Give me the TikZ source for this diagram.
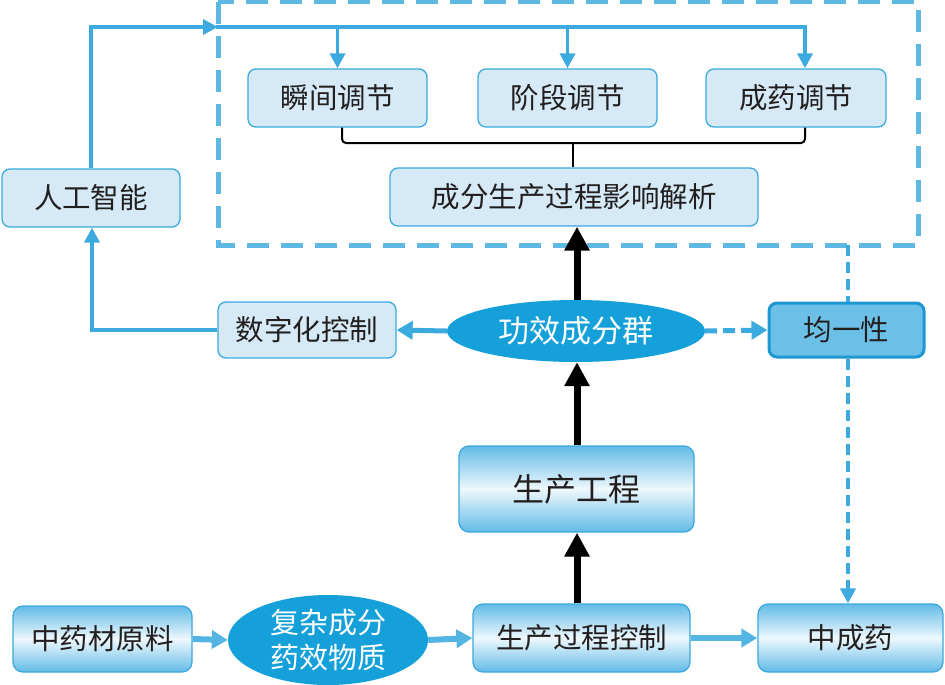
\documentclass[tikz,border=0pt]{standalone}
\usepackage{fontspec}
\newfontfamily\cjk{Noto Sans CJK SC}
\usetikzlibrary{shapes.geometric,arrows.meta}
\definecolor{lfill}{HTML}{D5EAF6}
\definecolor{bord}{HTML}{3BA9DC}
\definecolor{arrblue}{HTML}{3CAADF}
\definecolor{ellblue}{HTML}{15A0DA}
\definecolor{ufill}{HTML}{6CC0E8}
\definecolor{uborder}{HTML}{1E96D2}
\definecolor{gtop}{HTML}{62BBE6}
\definecolor{gmid}{HTML}{EEF8FD}
\definecolor{dashblue}{HTML}{5DB9E4}
\definecolor{txt}{HTML}{231F20}
\definecolor{thickblue}{HTML}{55B5E2}
\tikzset{
  lbox/.style={draw=bord, fill=lfill, line width=1.3pt, rounded corners=8pt, text=txt,
    inner sep=0pt, font=\cjk\fontsize{28.5}{32}\selectfont},
  gbox/.style={draw=bord, line width=1.3pt, rounded corners=10pt, text=txt,
    top color=gtop, bottom color=gtop, middle color=gmid,
    inner sep=0pt, font=\cjk\fontsize{28.5}{32}\selectfont},
  ell/.style={ellipse, fill=ellblue, text=white, inner sep=0pt, align=center},
  bline/.style={draw=arrblue, line width=3.5pt},
  barrow/.style={bline, -{Triangle[length=15pt,width=15pt]}},
  tarrow/.style={draw=thickblue, line width=6pt, -{Triangle[length=16pt,width=18pt]}},
  karrow/.style={draw=black, line width=7pt, -{Triangle[length=24pt,width=24pt]}},
  dline/.style={draw=arrblue, line width=4pt, dash pattern=on 11pt off 6pt},
}
\begin{document}
\begin{tikzpicture}[x=1pt,y=-1pt]
\useasboundingbox (0,0) rectangle (945,685);
% dashed region
\draw[draw=dashblue, line width=5pt, dash pattern=on 22pt off 12pt] (218,2) rectangle (918,245);
% nodes
\node[lbox, minimum width=179pt, minimum height=58pt] (A1) at (337.5,98) {瞬间调节};
\node[lbox, minimum width=179pt, minimum height=58pt] (A2) at (567.5,98) {阶段调节};
\node[lbox, minimum width=180pt, minimum height=58pt] (A3) at (796,98) {成药调节};
\node[lbox, minimum width=368pt, minimum height=58pt] (B) at (574,197) {成分生产过程影响解析};
\node[lbox, minimum width=178pt, minimum height=58pt] (AI) at (91,198) {人工智能};
\node[lbox, minimum width=178pt, minimum height=56pt] (D) at (307,330) {数字化控制};
\node[ell, minimum width=258pt, minimum height=62pt, font=\cjk\fontsize{31}{34}\selectfont] (E) at (576,331) {功效成分群};
\node[lbox, fill=ufill, draw=uborder, line width=3pt, minimum width=155pt, minimum height=54pt] (U) at (846.5,330) {均一性};
\node[gbox, minimum width=235pt, minimum height=86pt, font=\cjk\fontsize{32}{36}\selectfont] (G) at (576.5,489) {生产工程};
\node[gbox, minimum width=179pt, minimum height=66pt] (R) at (102.5,639) {中药材原料};
\node[ell, minimum width=200pt, minimum height=90pt, font=\cjk\fontsize{29}{35}\selectfont] (F) at (328,640) {复杂成分\\药效物质};
\node[gbox, minimum width=217pt, minimum height=68pt] (P) at (581.5,638) {生产过程控制};
\node[gbox, minimum width=185pt, minimum height=68pt] (Z) at (850.5,638) {中成药};
% top distribution line
\coordinate (hub) at (218,27);
\coordinate (tend) at (805,27);
\draw[barrow] (AI.north) |- (hub);
\draw[bline, line cap=rect] (hub) -- (tend);
\draw[barrow] (A1.north |- hub) -- (A1.north);
\draw[barrow] (A2.north |- hub) -- (A2.north);
\draw[barrow] (tend) -- (tend |- A3.north);
% bracket
\coordinate (bl) at (342,143);
\coordinate (br) at (805,143);
\coordinate (bc) at (573,143);
\draw[line width=2pt, rounded corners=4pt] (bl |- A1.south) -- (bl) -- (br) -- (br |- A3.south);
\draw[line width=2.5pt] (bc) -- (B.north -| bc);
% black arrows
\draw[karrow] (P.north -| 577,0) -- (G.south -| 577,0);
\draw[karrow] (G.north -| 577,0) -- (E.south -| 577,0);
\draw[karrow] (E.north -| 577,0) -- (B.south -| 577,0);
% middle row
\draw[tarrow, draw=arrblue, line width=5pt] (E.west) -- (D.east);
\coordinate (lc) at (92,330);
\draw[barrow] (D.west) -- (lc) -- (AI.south -| lc);
\draw[tarrow, draw=arrblue, line width=5pt, dash pattern=on 12pt off 6pt] (E.east) -- (U.west);
% dashed vertical
\coordinate (dtop) at (848,245);
\draw[dline] (dtop) -- (U.north -| dtop);
\draw[dline, -{Triangle[length=15pt,width=15pt]}] (U.south -| dtop) -- (Z.north -| dtop);
% bottom row
\draw[tarrow] (R.east) -- (F.west);
\draw[tarrow] (F.east) -- (P.west);
\draw[tarrow] (P.east) -- (Z.west);
\end{tikzpicture}
\end{document}
